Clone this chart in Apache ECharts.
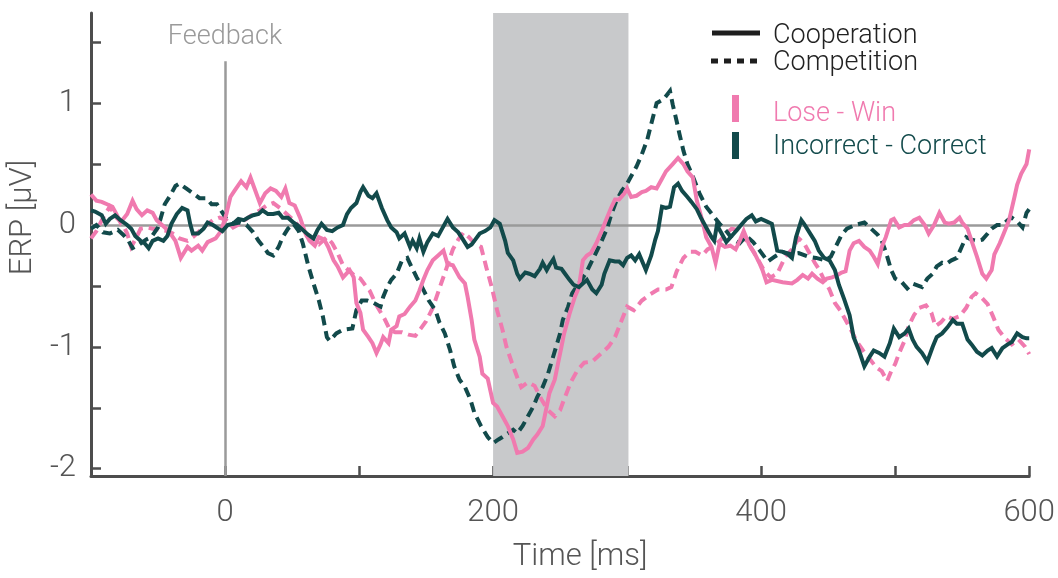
<!DOCTYPE html>
<html>
<head>
<meta charset="utf-8">
<script src="https://cdn.jsdelivr.net/npm/echarts@6/dist/echarts.min.js"></script>
<style>
html,body{margin:0;padding:0;background:#fff;}
#chart{width:1058px;height:578px;}
</style>
</head>
<body>
<div id="chart"></div>
<script>
// ---- data (time in ms, ERP in µV) ----
var coopLoseT = [-100,-96,-92,-88,-84,-81,-78,-73,-69,-66,-62,-58,-54,-51,-47,-42,-37,-33,-28,-25,-20,-17,-13,-7,-3,1,4,7,12,16,19,22,26,30,34,38,42,45,48,52,56,60,63,67,70,74,77,81,84,88,93,96,98,101,103,107,110,113,116,118,122,124,128,130,134,138,142,145,148,151,155,159,163,166,170,175,179,181,184,186,190,192,196,200,203,207,211,215,218,222,226,230,233,237,240,242,246,248,251,253,257,261,264,267,270,273,277,281,285,288,291,294,298,300,303,307,311,314,318,322,326,329,334,338,342,345,349,352,356,359,363,366,369,373,377,381,384,387,391,395,399,401,404,408,416,423,427,431,435,438,442,446,449,453,457,460,463,466,469,473,477,481,484,487,490,493,497,499,503,507,510,514,518,522,525,529,533,537,540,544,548,550,554,557,561,565,568,572,574,578,581,585,589,591,594,598,600];
var coopLoseV = [0.25,0.2,0.19,0.17,0.15,0.09,0.02,0.09,0.2,0.13,0.08,0.12,0.1,0.04,0.0,-0.05,-0.13,-0.27,-0.18,-0.21,-0.17,-0.21,-0.14,-0.11,-0.05,0.09,0.23,0.28,0.36,0.31,0.39,0.3,0.18,0.26,0.3,0.28,0.23,0.3,0.18,0.16,0.06,-0.07,-0.13,-0.17,-0.1,-0.12,-0.18,-0.29,-0.34,-0.43,-0.37,-0.43,-0.64,-0.72,-0.86,-0.92,-0.97,-1.05,-0.98,-0.92,-0.97,-0.86,-0.83,-0.75,-0.73,-0.67,-0.62,-0.54,-0.45,-0.37,-0.29,-0.25,-0.21,-0.32,-0.33,-0.43,-0.48,-0.59,-0.78,-0.94,-1.08,-1.22,-1.26,-1.46,-1.49,-1.57,-1.65,-1.76,-1.87,-1.86,-1.83,-1.76,-1.72,-1.65,-1.49,-1.38,-1.27,-1.16,-1.0,-0.89,-0.73,-0.59,-0.51,-0.29,-0.25,-0.23,-0.15,-0.05,0.06,0.14,0.21,0.21,0.26,0.3,0.23,0.24,0.27,0.28,0.31,0.3,0.38,0.44,0.5,0.55,0.5,0.44,0.39,0.2,0.04,-0.1,-0.18,-0.31,-0.15,-0.18,-0.17,-0.2,-0.13,-0.05,-0.16,-0.23,-0.32,-0.37,-0.47,-0.45,-0.47,-0.48,-0.45,-0.41,-0.44,-0.4,-0.44,-0.47,-0.44,-0.43,-0.41,-0.39,-0.38,-0.21,-0.15,-0.13,-0.18,-0.21,-0.26,-0.32,-0.18,-0.1,0.04,0.05,-0.02,0.0,0.0,0.04,0.06,0.0,-0.07,0.0,0.1,0.02,0.01,0.02,0.06,0.02,-0.03,-0.13,-0.26,-0.4,-0.44,-0.37,-0.24,-0.15,-0.07,0.04,0.23,0.33,0.42,0.5,0.62];

var compLoseT = [-100,-96,-91,-86,-81,-77,-73,-70,-66,-63,-58,-54,-48,-43,-39,-34,-28,-24,-19,-14,-9,-4,1,6,11,16,21,26,31,36,41,46,51,56,61,66,70,76,80,84,88,92,97,101,105,108,113,119,123,127,132,137,142,146,150,155,160,166,170,174,178,182,186,191,195,199,203,207,210,214,218,221,226,231,236,241,246,250,253,258,263,268,274,281,286,291,296,300,305,311,317,323,329,333,337,342,347,351,356,360,365,370,374,378,382,386,389,392,397,402,407,412,418,423,428,432,436,440,443,447,451,455,459,463,467,471,476,481,486,490,494,497,500,503,507,510,514,518,523,527,530,534,538,543,548,553,557,560,564,569,573,577,582,587,592,597,600];
var compLoseV = [-0.11,-0.05,0.06,0.15,0.06,0.02,-0.07,-0.18,-0.1,-0.03,-0.02,-0.03,-0.04,-0.05,-0.07,-0.11,-0.13,-0.1,-0.05,0.0,0.04,0.06,0.04,-0.02,0.01,0.05,0.09,0.12,0.16,0.18,0.14,0.09,0.04,-0.02,-0.09,-0.14,-0.16,-0.1,-0.15,-0.23,-0.33,-0.37,-0.42,-0.44,-0.5,-0.54,-0.66,-0.77,-0.86,-0.88,-0.88,-0.9,-0.91,-0.85,-0.79,-0.68,-0.52,-0.33,-0.2,-0.12,-0.06,-0.1,-0.15,-0.18,-0.35,-0.51,-0.7,-0.86,-1.0,-1.13,-1.25,-1.33,-1.29,-1.32,-1.43,-1.52,-1.57,-1.52,-1.43,-1.29,-1.19,-1.13,-1.12,-1.05,-1.0,-0.92,-0.78,-0.67,-0.7,-0.62,-0.57,-0.53,-0.53,-0.51,-0.38,-0.27,-0.22,-0.22,-0.25,-0.2,-0.17,-0.12,-0.07,-0.03,-0.04,-0.06,-0.13,-0.18,-0.27,-0.37,-0.43,-0.4,-0.26,-0.2,-0.11,-0.15,-0.23,-0.31,-0.36,-0.45,-0.53,-0.64,-0.7,-0.78,-0.86,-0.95,-1.03,-1.1,-1.17,-1.2,-1.28,-1.2,-1.14,-1.05,-0.95,-0.83,-0.74,-0.68,-0.66,-0.72,-0.83,-0.8,-0.75,-0.77,-0.75,-0.68,-0.59,-0.56,-0.59,-0.65,-0.75,-0.86,-0.93,-0.98,-0.94,-1.0,-1.06];

var coopIncT = [-100,-97,-92,-89,-86,-82,-78,-73,-70,-67,-63,-60,-57,-54,-50,-46,-43,-40,-36,-32,-28,-26,-24,-20,-16,-13,-9,-5,-2,2,6,10,14,17,21,25,28,32,36,40,43,47,51,54,58,62,66,69,72,76,80,84,88,91,94,98,101,103,107,110,113,117,121,124,128,130,134,138,140,143,145,148,151,155,159,162,166,170,174,177,181,184,186,190,194,198,201,205,209,211,215,218,220,224,227,231,235,237,240,242,245,247,251,253,257,260,264,268,270,274,277,281,283,287,291,294,297,300,303,306,309,314,318,321,323,326,329,332,335,338,341,345,348,352,355,359,363,365,367,370,374,378,382,385,389,393,396,400,404,408,410,412,416,420,423,426,430,432,436,440,443,447,451,455,458,462,466,469,473,477,481,484,488,492,496,499,503,507,510,513,516,520,524,528,531,535,539,543,546,550,554,557,561,565,569,572,576,580,584,587,591,595,598,600];
var coopIncV = [0.12,0.11,0.08,0.01,0.05,0.08,0.04,0.0,-0.03,-0.09,-0.13,-0.15,-0.19,-0.13,-0.11,-0.13,-0.09,0.01,0.09,0.14,0.12,0.01,-0.07,-0.07,-0.03,0.02,0.0,-0.03,-0.05,0.0,0.01,0.05,0.04,0.06,0.08,0.09,0.12,0.09,0.09,0.1,0.06,0.06,0.02,0.0,-0.04,-0.08,-0.11,-0.04,0.01,-0.04,-0.05,-0.02,0.0,0.09,0.14,0.18,0.27,0.31,0.24,0.22,0.26,0.14,0.04,-0.02,-0.06,-0.11,-0.07,-0.18,-0.13,-0.19,-0.11,-0.22,-0.14,-0.07,-0.09,-0.03,0.05,-0.02,-0.06,-0.11,-0.18,-0.16,-0.13,-0.07,-0.05,-0.02,0.04,0.01,-0.13,-0.23,-0.29,-0.4,-0.44,-0.39,-0.4,-0.42,-0.36,-0.31,-0.37,-0.33,-0.28,-0.35,-0.36,-0.39,-0.45,-0.49,-0.51,-0.47,-0.45,-0.53,-0.56,-0.49,-0.4,-0.29,-0.3,-0.3,-0.33,-0.27,-0.25,-0.29,-0.24,-0.37,-0.25,-0.12,-0.05,0.15,0.14,0.15,0.31,0.34,0.28,0.23,0.19,0.13,0.06,-0.02,-0.1,-0.13,0.0,-0.06,-0.14,-0.09,-0.04,0.0,0.05,0.08,0.03,0.05,0.03,0.01,-0.1,-0.21,-0.22,-0.24,-0.27,-0.1,0.04,0.01,-0.06,-0.13,-0.21,-0.27,-0.29,-0.37,-0.49,-0.61,-0.74,-0.92,-1.03,-1.16,-1.08,-1.03,-1.05,-1.08,-0.97,-0.85,-0.92,-0.89,-0.85,-0.94,-1.0,-1.05,-1.12,-1.0,-0.92,-0.89,-0.84,-0.78,-0.81,-0.81,-0.94,-0.98,-1.04,-1.07,-1.03,-1.01,-1.08,-1.01,-0.98,-0.96,-0.89,-0.92,-0.93,-0.93];

var compIncT = [-100,-96,-91,-86,-80,-76,-72,-69,-64,-59,-55,-50,-45,-41,-37,-34,-29,-24,-19,-14,-10,-6,-3,1,6,11,16,21,25,28,32,36,40,43,47,51,55,58,62,66,70,73,76,78,83,88,95,98,102,106,111,116,118,121,124,128,132,136,139,143,147,152,157,160,164,168,171,175,179,183,186,191,196,200,204,207,211,215,218,222,226,230,233,237,241,244,247,250,252,256,259,262,266,270,274,278,281,285,288,292,296,300,303,307,311,315,318,322,327,332,334,337,339,342,345,349,354,359,364,369,374,379,384,389,394,399,405,410,416,422,428,435,441,448,452,456,460,464,470,477,482,487,490,493,497,500,505,509,513,520,524,528,531,535,538,542,546,550,553,557,561,565,569,572,576,580,584,587,591,595,598,600];
var compIncV = [-0.03,0.0,-0.06,-0.07,-0.04,-0.08,-0.13,-0.19,-0.16,-0.12,-0.1,-0.02,0.17,0.24,0.32,0.34,0.3,0.26,0.22,0.22,0.17,0.17,0.12,0.05,0.01,0.02,0.0,-0.06,-0.13,-0.17,-0.23,-0.25,-0.18,-0.1,-0.03,0.01,-0.05,-0.15,-0.33,-0.48,-0.62,-0.75,-0.92,-0.95,-0.89,-0.86,-0.85,-0.7,-0.62,-0.62,-0.64,-0.67,-0.59,-0.51,-0.45,-0.4,-0.29,-0.27,-0.34,-0.43,-0.51,-0.62,-0.7,-0.8,-0.89,-1.03,-1.16,-1.27,-1.33,-1.43,-1.54,-1.65,-1.74,-1.79,-1.76,-1.74,-1.71,-1.68,-1.71,-1.65,-1.57,-1.49,-1.41,-1.33,-1.22,-1.11,-1.0,-0.89,-0.78,-0.67,-0.56,-0.51,-0.45,-0.38,-0.29,-0.2,-0.13,-0.03,0.08,0.2,0.28,0.34,0.4,0.48,0.58,0.7,0.83,1.0,1.03,1.1,0.99,0.85,0.75,0.61,0.5,0.4,0.26,0.15,0.08,0.01,-0.05,-0.12,-0.15,-0.09,-0.14,-0.21,-0.3,-0.26,-0.22,-0.24,-0.23,-0.26,-0.27,-0.29,-0.26,-0.17,-0.08,-0.03,0.0,0.02,-0.03,-0.08,-0.13,-0.22,-0.37,-0.44,-0.47,-0.52,-0.48,-0.51,-0.44,-0.4,-0.34,-0.31,-0.32,-0.29,-0.27,-0.17,-0.1,-0.12,-0.13,-0.12,-0.07,-0.03,0.0,0.0,0.04,0.06,0.03,-0.02,0.1,0.13];

// axis ticks / labels
var xTickLabels = [0, 200, 400, 600];
var yTickValues = [-2, -1.5, -1, -0.5, 0, 0.5, 1, 1.5];
var yTickLabels = [-2, -1, 0, 1];
var windowRange = [200, 301];
var feedbackTime = 0;
var feedbackLabel = 'Feedback';

var seriesNames = ['Cooperation', 'Competition'];
var groupNames = ['Lose - Win', 'Incorrect - Correct'];

function pairs(t, v) { return t.map(function (x, i) { return [x, v[i]]; }); }

var PINK = '#F07AAF';
var TEAL = '#124A4B';
var AXIS = '#4d4d4d';
var GRAY = '#9a9a9a';
var FONT = 'Roboto';

var chart = echarts.init(document.getElementById('chart'), null, {renderer: 'canvas'});

var yMin = -2.06, yMax = 1.74;

function lineSeries(name, data, color, dashed) {
  return {
    name: name, type: 'line', data: data, showSymbol: false, symbol: 'none',
    z: 5, silent: true,
    lineStyle: {color: color, width: 4, type: dashed ? [10, 6] : 'solid', cap: 'butt', join: 'miter'}
  };
}

var fbLabel = {show: true, position: 'end', distance: 10,
  formatter: function () { return feedbackLabel; },
  fontFamily: FONT, fontWeight: 300, fontSize: 27, color: GRAY};

chart.setOption({
  animation: false,
  backgroundColor: '#fff',
  grid: {left: 91, right: 28, top: 13, bottom: 101, containLabel: false},
  xAxis: {
    type: 'value', min: -100, max: 600, interval: 100,
    name: 'Time [ms]', nameLocation: 'middle', nameGap: 66,
    nameTextStyle: {fontFamily: FONT, fontWeight: 300, fontSize: 31, color: '#555', padding: [0, 0, 0, 40]},
    axisLine: {show: true, onZero: false, lineStyle: {color: AXIS, width: 3}},
    axisTick: {show: true, inside: true, length: 10, lineStyle: {color: AXIS, width: 2.5}},
    axisLabel: {
      margin: 22, fontFamily: FONT, fontWeight: 300, fontSize: 31, color: '#555',
      formatter: function (v) { return xTickLabels.indexOf(v) >= 0 ? String(v) : ''; }
    },
    splitLine: {show: false}
  },
  yAxis: {
    type: 'value', min: yMin, max: yMax,
    name: 'ERP [µV]', nameLocation: 'middle', nameGap: 48, nameRotate: 90,
    nameTextStyle: {fontFamily: FONT, fontWeight: 300, fontSize: 31, color: '#555', padding: [0, 0, 0, 54]},
    axisLine: {show: true, onZero: false, lineStyle: {color: AXIS, width: 3}},
    axisTick: {show: true, inside: true, length: 10, customValues: yTickValues, lineStyle: {color: AXIS, width: 2.5}},
    axisLabel: {
      margin: 15, fontFamily: FONT, fontWeight: 300, fontSize: 31, color: '#555',
      customValues: yTickLabels,
      formatter: function (v) { return String(v); }
    },
    splitLine: {show: false}
  },
  series: [
    {
      type: 'line', data: [], z: 1, silent: true,
      markArea: {
        silent: true,
        itemStyle: {color: '#c8c9cb', opacity: 1},
        data: [[{xAxis: windowRange[0]}, {xAxis: windowRange[1]}]]
      }
    },
    {
      type: 'line', data: [], z: 2, silent: true,
      markLine: {
        silent: true, symbol: 'none', animation: false,
        lineStyle: {color: GRAY, width: 2.5, type: 'solid'},
        label: {show: false},
        data: [{yAxis: 0}]
      }
    },
    {
      type: 'line', data: [], z: 2, silent: true,
      markLine: {
        silent: true, symbol: 'none', animation: false,
        lineStyle: {color: GRAY, width: 2.5, type: 'solid'},
        label: fbLabel,
        data: [[{coord: [feedbackTime, yMin], label: fbLabel}, {coord: [feedbackTime, 1.344], label: fbLabel}]]
      }
    },
    lineSeries('compLose', pairs(compLoseT, compLoseV), PINK, true),
    lineSeries('compInc', pairs(compIncT, compIncV), TEAL, true),
    lineSeries('coopLose', pairs(coopLoseT, coopLoseV), PINK, false),
    lineSeries('coopInc', pairs(coopIncT, coopIncV), TEAL, false)
  ],
  graphic: [
    {type: 'line', shape: {x1: 712, y1: 33, x2: 760, y2: 33}, style: {stroke: '#1e1e1e', lineWidth: 5}},
    {type: 'text', left: 773, top: 23, style: {text: seriesNames[0], fontFamily: FONT, fontWeight: 300, fontSize: 27, fill: '#222'}},
    {type: 'line', shape: {x1: 711, y1: 61, x2: 758, y2: 61}, style: {stroke: '#1e1e1e', lineWidth: 5, lineDash: [7, 6]}},
    {type: 'text', left: 773, top: 50, style: {text: seriesNames[1], fontFamily: FONT, fontWeight: 300, fontSize: 27, fill: '#222'}},
    {type: 'rect', shape: {x: 732, y: 95, width: 7, height: 27}, style: {fill: PINK}},
    {type: 'text', left: 773, top: 101, style: {text: groupNames[0], fontFamily: FONT, fontWeight: 300, fontSize: 27, fill: PINK}},
    {type: 'rect', shape: {x: 732, y: 132, width: 7, height: 27}, style: {fill: TEAL}},
    {type: 'text', left: 773, top: 134, style: {text: groupNames[1], fontFamily: FONT, fontWeight: 300, fontSize: 27, fill: TEAL}}
  ]
});
</script>
</body>
</html>
